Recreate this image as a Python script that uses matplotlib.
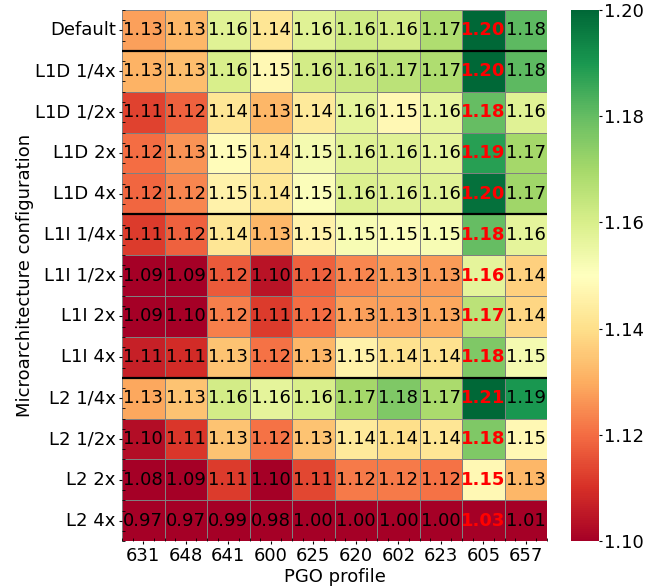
import numpy as np
import matplotlib
matplotlib.use("Agg")
import matplotlib.pyplot as plt
import seaborn as sns
from matplotlib.ticker import AutoMinorLocator, FormatStrFormatter

configs = ["Default", "L1D 1/4x", "L1D 1/2x", "L1D 2x", "L1D 4x",
           "L1I 1/4x", "L1I 1/2x", "L1I 2x", "L1I 4x",
           "L2 1/4x", "L2 1/2x", "L2 2x", "L2 4x"]
profiles = ["631", "648", "641", "600", "625", "620", "602", "623", "605", "657"]

row_default = [1.128, 1.132, 1.158, 1.142, 1.158, 1.162, 1.161, 1.168, 1.200, 1.181]
row_l1d_q = [1.131, 1.133, 1.160, 1.148, 1.161, 1.163, 1.166, 1.168, 1.200, 1.181]
row_l1d_h = [1.113, 1.118, 1.142, 1.132, 1.143, 1.157, 1.148, 1.156, 1.180, 1.158]
row_l1d_2 = [1.120, 1.126, 1.149, 1.142, 1.153, 1.158, 1.158, 1.157, 1.188, 1.170]
row_l1d_4 = [1.119, 1.124, 1.146, 1.142, 1.151, 1.159, 1.158, 1.158, 1.198, 1.171]
row_l1i_q = [1.112, 1.118, 1.142, 1.132, 1.146, 1.152, 1.151, 1.152, 1.180, 1.157]
row_l1i_h = [1.090, 1.090, 1.117, 1.104, 1.118, 1.124, 1.127, 1.127, 1.157, 1.137]
row_l1i_2 = [1.090, 1.098, 1.123, 1.112, 1.120, 1.128, 1.128, 1.129, 1.166, 1.138]
row_l1i_4 = [1.107, 1.109, 1.134, 1.121, 1.132, 1.146, 1.141, 1.141, 1.176, 1.153]
row_l2_q = [1.129, 1.134, 1.161, 1.157, 1.160, 1.170, 1.176, 1.169, 1.210, 1.190]
row_l2_h = [1.103, 1.111, 1.134, 1.121, 1.134, 1.143, 1.140, 1.142, 1.176, 1.148]
row_l2_2 = [1.080, 1.090, 1.112, 1.100, 1.114, 1.122, 1.122, 1.121, 1.148, 1.132]
row_l2_4 = [0.970, 0.970, 0.990, 0.980, 1.000, 1.000, 1.000, 1.000, 1.030, 1.010]

data = np.array([row_default, row_l1d_q, row_l1d_h, row_l1d_2, row_l1d_4,
                 row_l1i_q, row_l1i_h, row_l1i_2, row_l1i_4,
                 row_l2_q, row_l2_h, row_l2_2, row_l2_4])

fig = plt.figure(figsize=(6.56, 5.87), dpi=100)
ax = fig.add_axes([0.186, 0.078, 0.648, 0.905])
cax = fig.add_axes([0.870, 0.078, 0.043, 0.905])

sns.heatmap(data, ax=ax, cbar_ax=cax, cmap="RdYlGn", vmin=1.10, vmax=1.20,
            annot=True, fmt=".2f", annot_kws={"fontsize": 13, "color": "black"},
            linewidths=0.7, linecolor="gray",
            xticklabels=profiles, yticklabels=configs,
            cbar_kws={"ticks": [1.10, 1.12, 1.14, 1.16, 1.18, 1.20]})

# highlight max per row
ncols = data.shape[1]
for i, t in enumerate(ax.texts):
    r, c = divmod(i, ncols)
    t.set_color("black")
    if c == int(np.argmax(data[r])):
        t.set_color("red")
        t.set_fontweight("bold")

for y in [1, 5, 9]:
    ax.axhline(y, color="black", lw=1.6)

ax.set_yticklabels(configs, rotation=0, fontsize=13)
ax.set_xticklabels(profiles, rotation=0, fontsize=13)
ax.tick_params(axis="both", which="major", length=2.5, width=0.8, pad=2, labelsize=13)
ax.xaxis.set_minor_locator(AutoMinorLocator(4))
ax.yaxis.set_minor_locator(AutoMinorLocator(4))
ax.tick_params(which="minor", direction="in", length=2, width=0.6)
ax.set_xlabel("PGO profile", fontsize=13, labelpad=2)
ax.set_ylabel("Microarchitecture configuration", fontsize=13, labelpad=1)
cax.tick_params(labelsize=13, length=2, pad=2)
cax.yaxis.set_major_formatter(FormatStrFormatter("%.2f"))

fig.savefig("out.png", dpi=100)
